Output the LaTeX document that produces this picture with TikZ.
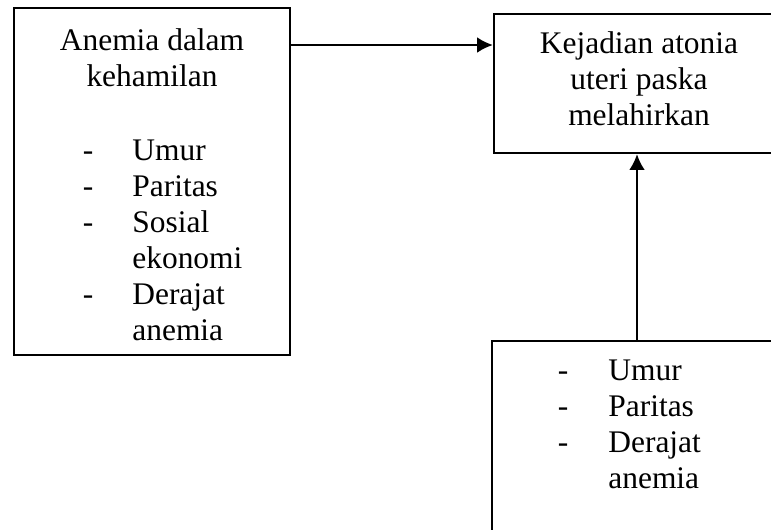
\documentclass[tikz,border=0pt]{standalone}
\usepackage{fontspec}
\setmainfont{Liberation Serif}
\usetikzlibrary{arrows.meta}

\begin{document}
\begin{tikzpicture}[x=0.02cm,y=-0.02cm]
\tikzset{>={Latex[width=9pt,length=9pt]}}
\tikzstyle{kotak} =[draw, line width=1.3pt, inner sep=0pt]
\tikzstyle{teks} =[inner sep=0pt, font=\fontsize{17.9}{20.5}\selectfont]
\useasboundingbox (0,0) rectangle (771,529);
\clip (0,0) rectangle (771,529);

\node[kotak, minimum width=5.52cm, minimum height=6.94cm](kiri) at (152,181.5){};
\node[kotak, minimum width=5.8cm, minimum height=2.78cm](atonia) at (639,83.5){};
\node[kotak, minimum width=5.84cm, minimum height=5.58cm](faktor) at (638,480.5){};

% judul
\node[teks, anchor=base](j1) at (152,50){Anemia dalam};
\node[teks, anchor=base](j2) at (152,86){kehamilan};
\node[teks, anchor=base](k1) at (639,53){Kejadian atonia};
\node[teks, anchor=base](k2) at (639,89){uteri paska};
\node[teks, anchor=base](k3) at (639,125){melahirkan};

% daftar kiri
\foreach \y/\t/\s [count=\i] in {160/Umur/-, 196/Paritas/-, 232/Sosial/-, 268/ekonomi/, 304/Derajat/-, 340/anemia/}
{
\node[teks, anchor=base](da\i) at (88,\y){\s};
\node[teks, anchor=base west](la\i) at (132,\y){\t};
}

% daftar kanan
\foreach \y/\t/\s [count=\i] in {380/Umur/-, 416/Paritas/-, 452/Derajat/-, 488/anemia/}
{
\node[teks, anchor=base](db\i) at (563,\y){\s};
\node[teks, anchor=base west](lb\i) at (608,\y){\t};
}

\coordinate (h) at (0,45);
\coordinate (v) at (637,0);
\draw[->, line width=1.3pt] (kiri.east |- h) -- (atonia.west |- h);
\draw[->, line width=1.3pt] (faktor.north -| v) -- (atonia.south -| v);
\end{tikzpicture}
\end{document}
